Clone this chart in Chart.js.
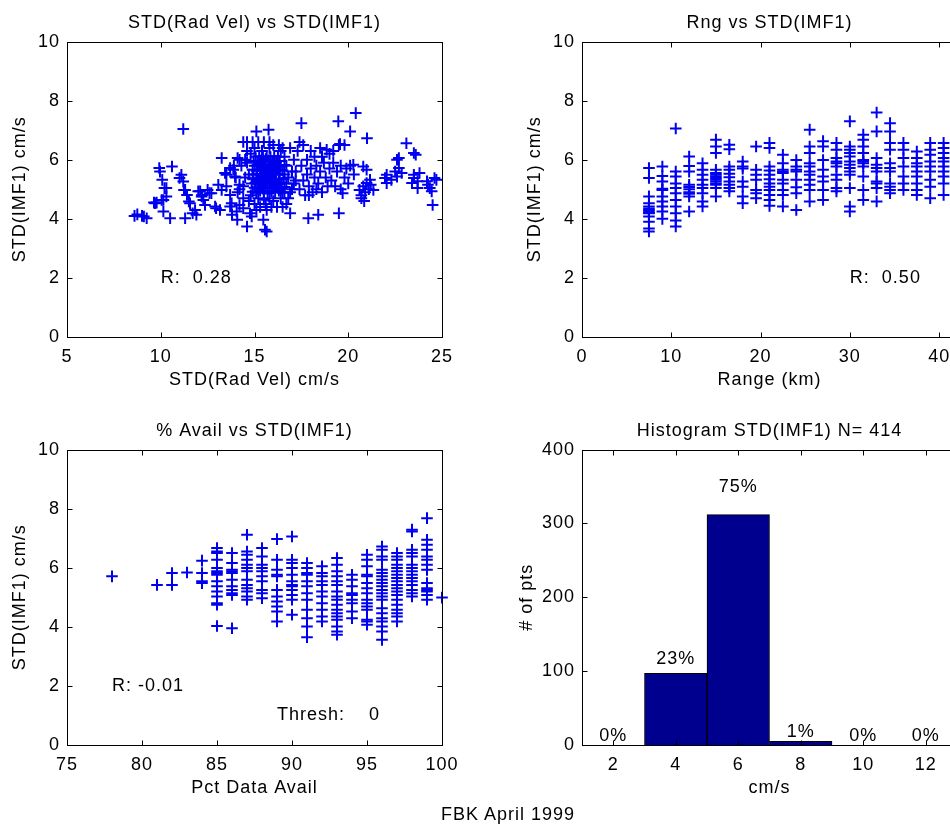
<!DOCTYPE html>
<html>
<head>
<meta charset="utf-8">
<script src="https://cdn.jsdelivr.net/npm/chart.js@4.4.1/dist/chart.umd.min.js"></script>
<style>
html, body { margin: 0; padding: 0; background: #fff; }
body { width: 950px; height: 826px; overflow: hidden; position: relative; }
.panel { position: absolute; width: 475px; height: 400px; }
#footer { position: absolute; left: 0; width: 1016px; top: 804px; text-align: center;
          font: 18px "Liberation Sans", Arial, sans-serif; letter-spacing: 1px; color: #000; }
</style>
</head>
<body>
<div class="panel" style="left:0;top:0"><canvas id="radVelChart" width="475" height="400"></canvas></div>
<div class="panel" style="left:515px;top:0"><canvas id="rangeChart" width="475" height="400"></canvas></div>
<div class="panel" style="left:0;top:408px"><canvas id="availChart" width="475" height="400"></canvas></div>
<div class="panel" style="left:515px;top:408px"><canvas id="histChart" width="475" height="400"></canvas></div>
<div id="footer">FBK April 1999</div>

<script>
// ==========================
// DATA
// ==========================

// STD(Rad Vel) vs STD(IMF1), [x, y]
const radVelPoints = [
    [8.6,4.1],[8.75,4.15],[9.0,4.1],[9.1,4.08],[9.25,4.02],
    [9.64,4.55],[9.7,4.53],[9.78,4.55],
    [9.92,5.72],[9.96,5.6],[10.08,5.32],[10.14,4.64],[10.05,4.64],[10.14,4.25],[10.5,4.02],
    [10.3,5.04],[10.2,5.04],[10.3,4.76],[10.6,5.77],
    [11.2,7.04],[11.1,5.49],[11.0,5.38],[11.2,5.26],[11.24,4.98],[11.3,4.02],[11.5,4.59],
    [11.56,4.53],[11.3,4.98],[11.4,4.81],[11.7,4.19],[11.83,4.3],[11.9,4.14],
    [12.0,4.93],[12.2,4.81],[12.1,4.93],[12.18,4.76],[12.27,4.64],[12.36,4.47],[12.5,4.98],
    [12.6,4.87],[12.7,4.87],[12.9,4.42],[12.95,4.36],[13.16,4.3],[13.07,5.15],[13.25,4.98],
    [13.25,6.06],[13.43,5.55],[13.5,5.49],[13.5,5.1],[13.7,4.81],[13.7,5.72],[13.78,4.53],
    [13.7,4.42],[13.8,4.14],[13.87,5.66],[13.96,5.43],[14.05,4.25],[14.08,3.97],[14.1,6.06],
    [14.2,5.15],[14.2,4.47],[14.4,4.36],[14.6,3.74],[14.76,4.19],[14.85,4.08],[15.1,4.3],
    [15.1,6.96],[15.75,7.02],[17.5,7.24],[19.47,7.3],[20.1,6.96],[20.4,7.58],[21.0,6.73],
    [15.47,3.97],[15.56,3.63],[15.65,3.57],[15.65,4.3],[16.9,4.19],[17.87,4.02],[18.4,4.14],[19.5,4.19],
    [20.8,5.77],[20.7,4.7],[20.6,4.98],[20.98,5.21],[21.16,5.32],[21.34,4.98],[20.27,5.83],
    [20.98,5.66],[20.8,5.1],[20.9,4.9],[21.1,5.0],[20.7,4.8],[20.85,4.6],[21.2,5.15],
    [21.96,5.38],[22.05,5.49],[22.05,5.21],[22.3,5.32],[22.5,5.6],[22.6,5.43],[22.6,6.0],
    [22.7,5.72],[22.7,6.06],[22.85,5.55],[23.1,6.56],[23.5,6.23],[23.6,6.17],[23.5,5.49],
    [23.4,5.21],[23.5,5.38],[23.7,5.27],[23.8,5.55],[23.7,5.04],[24.2,5.27],[24.35,5.04],
    [24.25,5.15],[24.45,4.93],[24.6,5.38],[24.7,5.32],[24.5,4.47],
    [17.2,5.6],[17.3,6.3],[17.4,5.0],[17.5,5.8],[17.6,6.5],[17.6,5.3],[17.7,4.8],[17.8,6.0],
    [17.8,5.5],[17.9,5.1],[18.0,6.3],[18.0,5.7],[18.1,4.9],[18.2,5.4],[18.2,6.1],[18.3,5.8],
    [18.4,5.2],[18.5,6.4],[18.5,5.6],[18.6,4.9],[18.7,5.9],[18.8,5.4],[18.85,6.34],[18.9,5.1],
    [19.0,5.7],[19.0,6.2],[19.1,5.3],[19.2,5.9],[19.3,5.1],[19.4,5.6],[19.5,6.5],[19.56,6.53],
    [19.6,5.8],[19.7,4.87],[19.8,6.5],[19.8,5.4],[19.9,5.7],[20.0,5.2],[20.1,5.8],[17.4,6.6],
    [17.9,4.8],[18.3,5.0],[19.6,5.0],[17.1,5.2],[18.6,6.1],[19.2,6.3],[20.3,5.5],
    [14.9,4.92],[15.1,4.88],[15.3,4.95],[15.5,4.9],[15.7,4.86],[15.9,4.93],[16.1,4.9],[16.3,4.95],[16.5,4.88],
    [15.0,5.05],[15.2,5.02],[15.4,5.08],[15.6,5.04],[15.8,5.07],[16.0,5.03],[16.2,5.06],[16.4,5.02],[16.6,5.08],
    [14.85,5.2],[15.05,5.22],[15.25,5.18],[15.45,5.21],[15.65,5.19],[15.85,5.23],[16.05,5.2],[16.25,5.17],[16.45,5.22],
    [14.9,5.36],[15.1,5.33],[15.3,5.37],[15.5,5.34],[15.7,5.38],[15.9,5.35],[16.1,5.32],[16.3,5.36],[16.55,5.34],
    [14.95,5.5],[15.15,5.52],[15.35,5.48],[15.55,5.51],[15.75,5.47],[15.95,5.52],[16.15,5.49],[16.35,5.53],[16.6,5.5],
    [14.9,5.66],[15.1,5.63],[15.3,5.67],[15.5,5.64],[15.7,5.68],[15.9,5.65],[16.1,5.62],[16.3,5.66],[16.5,5.64],
    [15.0,5.8],[15.2,5.82],[15.4,5.78],[15.6,5.81],[15.8,5.79],[16.0,5.83],[16.2,5.8],[16.4,5.77],[16.6,5.82],
    [14.95,5.96],[15.15,5.93],[15.35,5.97],[15.55,5.94],[15.75,5.98],[15.95,5.95],[16.15,5.92],[16.35,5.96],
    [15.05,6.1],[15.25,6.12],[15.45,6.08],[15.65,6.11],[15.85,6.09],[16.05,6.13],[16.25,6.1],
    [15.2,5.28],[15.4,5.42],[15.6,5.58],[15.8,5.72],[16.0,5.88],[15.6,5.27],[15.8,5.43],[16.0,5.57],
    [15.3,5.88],[15.5,5.72],[15.7,5.56],[15.9,5.42],[16.1,5.27],[15.4,5.13],[16.0,5.13],[15.6,6.02],
    [14.5,5.4],[14.4,5.1],[14.3,5.8],[14.6,5.9],[14.7,5.5],[14.8,6.2],[14.4,6.6],[14.6,6.6],
    [14.9,6.6],[15.2,6.6],[15.5,6.6],[15.8,6.6],[16.0,6.5],[16.3,6.5],[16.5,6.4],[15.0,6.4],
    [15.4,6.3],[15.8,6.4],[16.4,6.3],[14.2,5.0],[14.1,4.9],[14.4,4.7],[14.7,4.6],[15.0,4.5],
    [15.3,4.4],[15.6,4.5],[15.9,4.4],[16.2,4.4],[16.5,4.4],[16.8,4.7],[16.7,4.5],[14.8,4.8],
    [16.4,4.7],[15.2,4.7],[15.5,4.65],[15.8,4.7],[16.0,4.6],[14.0,5.4],[13.9,5.8],[14.2,6.0],
    [16.9,6.4],[17.0,5.0],[17.2,5.3],[16.7,5.8],[16.8,5.4],[16.9,4.9],[17.0,5.6],[17.1,6.0],
    [16.6,6.1],[16.7,5.2],[14.6,6.3],[14.5,6.0],[16.6,4.9]
];

// Rng vs STD(IMF1): range bins (km) and the STD values in each bin
const rangeKm = [7.5, 9, 10.5, 12, 13.5, 15, 16.5, 18, 19.5, 21, 22.5, 24,
                 25.5, 27, 28.5, 30, 31.5, 33, 34.5, 36, 37.5, 39, 40.5];
const rangeStd = [
    [5.72,5.38,4.76,4.53,4.42,4.35,4.3,4.25,4.2,4.19,4.08,3.9,3.67,3.57],
    [5.77,5.45,5.26,5.02,4.98,4.76,4.59,4.42,4.25,4.0],
    [7.06,5.6,5.43,5.2,5.04,4.87,4.64,4.42,4.19,3.94,3.74],
    [6.11,5.79,5.6,5.15,5.08,5.0,4.9,4.85,4.76,4.25],
    [5.88,5.66,5.49,5.32,5.15,5.04,4.87,4.59,4.42],
    [6.68,6.45,6.23,5.66,5.55,5.49,5.43,5.38,5.32,5.26,5.2,5.15,5.04,4.76],
    [6.51,6.36,5.77,5.66,5.53,5.41,5.26,5.15,5.04,4.93],
    [5.94,5.77,5.7,5.26,5.09,4.76,4.53],
    [6.45,5.66,5.49,5.32,4.98,4.87,4.7],
    [6.57,6.4,5.77,5.64,5.49,5.34,5.2,5.09,4.98,4.81,4.64,4.44],
    [6.17,5.88,5.66,5.6,5.55,5.32,5.2,4.98,4.81,4.42],
    [5.99,5.77,5.66,5.6,5.32,5.07,4.87,4.3],
    [7.02,6.45,6.23,5.88,5.77,5.6,5.49,5.32,5.15,4.98,4.59],
    [6.63,6.45,5.99,5.66,5.43,5.26,4.98,4.64],
    [6.57,6.34,6.06,5.94,5.88,5.77,5.49,5.32,5.04,4.93],
    [7.3,6.45,6.34,6.23,6.11,5.94,5.83,5.72,5.6,5.49,5.04,4.42,4.25],
    [6.85,6.68,6.45,6.23,5.99,5.94,5.88,5.77,5.43,4.98,4.64],
    [7.6,6.96,6.06,5.83,5.72,5.6,5.26,5.2,5.04,4.59],
    [7.24,6.96,6.57,6.34,5.88,5.72,5.6,5.2,5.09,4.98,4.87],
    [6.57,6.34,6.06,5.77,5.43,5.2,4.98],
    [6.28,6.06,5.88,5.77,5.6,5.43,5.2,4.98,4.81],
    [6.57,6.34,6.17,5.94,5.77,5.6,5.32,5.09,4.7],
    [6.57,6.4,6.23,6.06,5.94,5.77,5.6,5.43,5.2,4.81]
];

// % Avail vs STD(IMF1): percent available and the STD values at each percent
const pctAvail = [78, 81, 82, 83, 84, 85, 86, 87, 88, 89, 90, 91, 92, 93, 94, 95, 96, 97, 98, 99, 100];
const pctStd = [
    [5.71],
    [5.42],
    [5.82,5.42],
    [5.84],
    [6.24,5.82,5.54,5.48],
    [6.67,6.55,6.5,6.27,5.99,5.88,5.82,5.76,5.54,5.37,5.2,5.03,4.8,4.75,4.03],
    [6.5,6.16,5.93,5.88,5.82,5.59,5.37,5.25,5.14,5.08,3.95],
    [7.12,6.55,6.44,6.27,6.1,5.99,5.88,5.59,5.42,5.31,5.2,5.03,4.92],
    [6.67,6.38,6.1,5.99,5.88,5.71,5.54,5.25,5.14,4.97],
    [6.97,6.27,5.93,5.76,5.71,5.25,5.03,4.86,4.69,4.52,4.18],
    [7.06,6.27,6.16,5.99,5.76,5.54,5.42,5.37,5.25,5.08,4.92,4.41],
    [6.16,5.99,5.82,5.76,5.54,5.37,5.14,4.92,4.58,4.29,4.01,3.65],
    [6.05,5.82,5.71,5.54,5.42,5.2,5.03,4.8,4.58,4.35,4.18],
    [6.33,6.1,5.88,5.71,5.54,5.42,5.2,5.03,4.92,4.75,4.58,4.46,4.35,4.24,4.01,3.84,3.73],
    [5.76,5.59,5.37,5.14,5.08,4.92,4.8,4.52,4.29],
    [6.44,6.27,6.05,5.76,5.71,5.48,5.31,5.14,4.92,4.8,4.69,4.58,4.24,4.18,4.07],
    [6.72,6.61,6.38,6.27,5.93,5.82,5.71,5.59,5.48,5.37,5.25,5.14,5.03,4.92,4.63,4.46,4.29,4.18,4.01,3.84,3.56],
    [6.5,6.38,6.27,6.1,5.99,5.88,5.76,5.65,5.54,5.42,5.31,5.2,5.08,4.92,4.75,4.58,4.46,4.35,4.18],
    [7.29,7.23,6.61,6.5,6.38,6.1,5.99,5.88,5.76,5.65,5.54,5.42,5.25,5.14,5.03],
    [7.68,6.95,6.78,6.61,6.38,6.27,6.1,5.93,5.48,5.31,5.25,5.2,5.08,4.92],
    [4.99]
];

// Histogram STD(IMF1)
const histBins = ["2", "4", "6", "8", "10", "12"];
const histCounts = [0, 97, 312, 5, 0, 0];

// tick labels
const radVelTicks = [5, 10, 15, 20, 25];
const rangeTicks = [0, 10, 20, 30, 40];
const availTicks = [75, 80, 85, 90, 95, 100];
const stdTicks = [0, 2, 4, 6, 8, 10];
const countTicks = [0, 100, 200, 300, 400];

// ==========================
// STYLE HELPERS
// ==========================
const FONT = '"Liberation Sans", Arial, sans-serif';
Chart.defaults.font.family = FONT;
Chart.defaults.font.size = 18;
Chart.defaults.color = "#000";

// matlab style box with inward ticks + text notes
const matlabAxes = {
    id: "matlabAxes",
    beforeDraw(chart) {
        chart.ctx.letterSpacing = "1px";
    },
    afterDraw(chart) {
        const ctx = chart.ctx;
        const a = chart.chartArea;
        const xs = chart.scales.x;
        const ys = chart.scales.y;
        const opts = chart.options.plugins.matlabAxes || {};
        const t = 5;

        ctx.save();
        ctx.strokeStyle = "#000";
        ctx.lineWidth = 1;
        const l = Math.round(a.left) + 0.5, r = Math.round(a.right) + 0.5;
        const tp = Math.round(a.top) + 0.5, b = Math.round(a.bottom) + 0.5;
        ctx.strokeRect(l, tp, r - l, b - tp);

        ctx.beginPath();
        xs.ticks.forEach(function (tk, i) {
            const px = Math.round(xs.getPixelForTick(i)) + 0.5;
            ctx.moveTo(px, b); ctx.lineTo(px, b - t);
            ctx.moveTo(px, tp); ctx.lineTo(px, tp + t);
        });
        ys.ticks.forEach(function (tk, i) {
            const py = Math.round(ys.getPixelForTick(i)) + 0.5;
            ctx.moveTo(l, py); ctx.lineTo(l + t, py);
            ctx.moveTo(r, py); ctx.lineTo(r - t, py);
        });
        ctx.stroke();

        ctx.fillStyle = "#000";
        ctx.font = "18px " + FONT;
        ctx.textBaseline = "middle";
        (opts.notes || []).forEach(function (n) {
            ctx.textAlign = n.align || "left";
            ctx.fillText(n.text, xs.getPixelForValue(n.x), ys.getPixelForValue(n.y));
        });
        ctx.restore();
    }
};

function xAxis(min, max, tickList, title) {
    return {
        type: "linear",
        position: "bottom",
        min: min,
        max: max,
        afterBuildTicks: function (s) { s.ticks = tickList.map(v => ({ value: v })); },
        afterFit: function (s) { s.height = 63; },
        ticks: { autoSkip: false, maxRotation: 0, padding: 9, color: "#000" },
        grid: { display: false, drawTicks: false },
        border: { display: false },
        title: { display: true, text: title, color: "#000", padding: { top: 0, bottom: 9 } }
    };
}

function yAxis(min, max, tickList, title, titlePad) {
    return {
        type: "linear",
        position: "left",
        min: min,
        max: max,
        afterBuildTicks: function (s) { s.ticks = tickList.map(v => ({ value: v })); },
        afterFit: function (s) { s.width = 67; },
        ticks: { autoSkip: false, padding: 7, color: "#000" },
        grid: { display: false, drawTicks: false },
        border: { display: false },
        title: { display: true, text: title, color: "#000", padding: { top: titlePad, bottom: 0 } }
    };
}

function baseOptions(title, scales, notes) {
    return {
        responsive: false,
        animation: false,
        layout: { padding: { left: 0, right: 33, top: 0, bottom: 0 } },
        scales: scales,
        plugins: {
            legend: { display: false },
            tooltip: { enabled: false },
            title: {
                display: true,
                text: title,
                color: "#000",
                fullSize: false,
                font: { size: 18, weight: "normal", lineHeight: 1.2 },
                padding: { top: 12, bottom: 8 }
            },
            matlabAxes: { notes: notes }
        }
    };
}

function plusDataset(points) {
    return {
        data: points,
        pointStyle: "cross",
        pointRadius: 5.8,
        pointBorderWidth: 2,
        pointBorderColor: "#0000f0",
        pointBackgroundColor: "#0000f0",
        showLine: false,
        clip: false
    };
}

// ==========================
// STD(Rad Vel) vs STD(IMF1)
// ==========================
new Chart(document.getElementById("radVelChart"), {
    type: "scatter",
    data: {
        datasets: [plusDataset(radVelPoints.map(p => ({ x: p[0], y: p[1] })))]
    },
    options: baseOptions(
        "STD(Rad Vel) vs STD(IMF1)",
        {
            x: xAxis(5, 25, radVelTicks, "STD(Rad Vel) cm/s"),
            y: yAxis(0, 10, stdTicks, "STD(IMF1) cm/s", 9)
        },
        [{ x: 10, y: 2, text: "R:  0.28" }]
    ),
    plugins: [matlabAxes]
});

// ==========================
// Rng vs STD(IMF1)
// ==========================
const rangePoints = [];
rangeKm.forEach(function (km, i) {
    rangeStd[i].forEach(function (v) { rangePoints.push({ x: km, y: v }); });
});

new Chart(document.getElementById("rangeChart"), {
    type: "scatter",
    data: { datasets: [plusDataset(rangePoints)] },
    options: baseOptions(
        "Rng vs STD(IMF1)",
        {
            x: xAxis(0, 42, rangeTicks, "Range (km)"),
            y: yAxis(0, 10, stdTicks, "STD(IMF1) cm/s", 9)
        },
        [{ x: 30, y: 2, text: "R:  0.50" }]
    ),
    plugins: [matlabAxes]
});

// ==========================
// % Avail vs STD(IMF1)
// ==========================
const availPoints = [];
pctAvail.forEach(function (p, i) {
    pctStd[i].forEach(function (v) { availPoints.push({ x: p, y: v }); });
});

new Chart(document.getElementById("availChart"), {
    type: "scatter",
    data: { datasets: [plusDataset(availPoints)] },
    options: baseOptions(
        "% Avail vs STD(IMF1)",
        {
            x: xAxis(75, 100, availTicks, "Pct Data Avail"),
            y: yAxis(0, 10, stdTicks, "STD(IMF1) cm/s", 9)
        },
        [
            { x: 78, y: 2, text: "R: -0.01" },
            { x: 89, y: 1, text: "Thresh:    0" }
        ]
    ),
    plugins: [matlabAxes]
});

// ==========================
// Histogram STD(IMF1)
// ==========================
const histTotal = histCounts.reduce((s, c) => s + c, 0);
const histNotes = histCounts.map(function (c, i) {
    return { x: i, y: c * 1.08 + 12, text: Math.round(100 * c / histTotal) + "%", align: "center" };
});

const histX = xAxis(0, 0, [], "cm/s");
histX.type = "category";
delete histX.min;
delete histX.max;
delete histX.afterBuildTicks;
histX.offset = true;

new Chart(document.getElementById("histChart"), {
    type: "bar",
    data: {
        labels: histBins,
        datasets: [{
            data: histCounts,
            backgroundColor: "#00008f",
            borderColor: "#000000",
            borderWidth: 1,
            barPercentage: 1,
            categoryPercentage: 1
        }]
    },
    options: baseOptions(
        "Histogram STD(IMF1) N= " + histTotal,
        {
            x: histX,
            y: yAxis(0, 400, countTicks, "# of pts", 1)
        },
        histNotes
    ),
    plugins: [matlabAxes]
});
</script>
</body>
</html>
